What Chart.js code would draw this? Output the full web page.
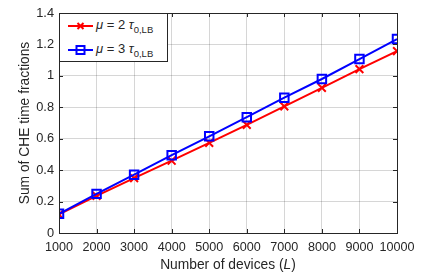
<!DOCTYPE html>
<html>
<head>
<meta charset="utf-8">
<script src="https://cdn.jsdelivr.net/npm/chart.js@4.4.0/dist/chart.umd.min.js"></script>
<style>
  html, body { margin: 0; padding: 0; background: #fff; }
  #wrap { position: relative; width: 436px; height: 273px; }
  #legendBox {
    position: absolute; left: 59px; top: 13px; width: 109px; height: 49px;
    box-sizing: border-box; border: 1px solid #262626; background: #fff;
    font-family: "Liberation Sans", Arial, sans-serif; font-size: 13px; color: #262626;
  }
  .legendItem { position: absolute; left: 8px; height: 14px; display: flex; align-items: center; white-space: nowrap; }
  .legendItem svg { margin-right: 3px; }
  .legendItem sub { font-size: 9.5px; vertical-align: -4px; }
  #xTitle {
    position: absolute; left: 59px; width: 338px; top: 257px; text-align: center;
    font-family: "Liberation Sans", Arial, sans-serif; font-size: 13.8px; line-height: 16px; color: #262626;
  }
</style>
</head>
<body>
<div id="wrap">
  <canvas id="cheChart" width="436" height="273"></canvas>
  <div id="legendBox"></div>
  <div id="xTitle">Number of devices (<i>L</i>)</div>
</div>
<script>
const deviceCounts = [1000, 2000, 3000, 4000, 5000, 6000, 7000, 8000, 9000, 10000];
const muValues = [2, 3];
const sumMu2 = [0.118, 0.236, 0.349, 0.46, 0.574, 0.688, 0.806, 0.924, 1.043, 1.157];
const sumMu3 = [0.122, 0.249, 0.371, 0.495, 0.615, 0.737, 0.861, 0.980, 1.107, 1.234];
const xTicks = [1000, 2000, 3000, 4000, 5000, 6000, 7000, 8000, 9000, 10000];
const yTicks = [0, 0.2, 0.4, 0.6, 0.8, 1, 1.2, 1.4];

const axisColor = '#262626';
const fontFamily = '"Liberation Sans", Arial, sans-serif';

// MATLAB style box with inward ticks on all sides
const boxTicks = {
  id: 'boxTicks',
  afterDraw(chart) {
    const ctx = chart.ctx;
    const a = chart.chartArea;
    const xs = chart.scales.x;
    const ys = chart.scales.y;
    const len = 4;
    ctx.save();
    ctx.strokeStyle = axisColor;
    ctx.lineWidth = 1;
    ctx.beginPath();
    xTicks.forEach(v => {
      const px = Math.round(xs.getPixelForValue(v)) + 0.5;
      ctx.moveTo(px, a.bottom); ctx.lineTo(px, a.bottom - len);
      ctx.moveTo(px, a.top); ctx.lineTo(px, a.top + len);
    });
    yTicks.forEach(v => {
      const py = Math.round(ys.getPixelForValue(v)) + 0.5;
      ctx.moveTo(a.left, py); ctx.lineTo(a.left + len, py);
      ctx.moveTo(a.right, py); ctx.lineTo(a.right - len, py);
    });
    ctx.stroke();
    ctx.strokeRect(Math.round(a.left) + 0.5, Math.round(a.top) + 0.5,
      Math.round(a.right - a.left), Math.round(a.bottom - a.top));
    ctx.restore();
  }
};

const seriesColors = ['#ff0000', '#0000ff'];
const seriesStyles = ['crossRot', 'rect'];

const chart = new Chart(document.getElementById('cheChart').getContext('2d'), {
  type: 'line',
  data: {
    labels: deviceCounts,
    datasets: [
      {
        label: 'mu = 2',
        data: deviceCounts.map((x, i) => ({ x: x, y: sumMu2[i] })),
        borderColor: seriesColors[0],
        backgroundColor: seriesColors[0],
        borderWidth: 2,
        pointStyle: seriesStyles[0],
        pointRadius: 5.5,
        pointBorderWidth: 2,
        pointBackgroundColor: 'transparent',
        tension: 0,
        order: 1
      },
      {
        label: 'mu = 3',
        data: deviceCounts.map((x, i) => ({ x: x, y: sumMu3[i] })),
        borderColor: seriesColors[1],
        backgroundColor: seriesColors[1],
        borderWidth: 2,
        pointStyle: seriesStyles[1],
        pointRadius: 6,
        pointBorderWidth: 2,
        pointBackgroundColor: 'transparent',
        tension: 0,
        order: 0
      }
    ]
  },
  options: {
    responsive: false,
    animation: false,
    layout: { padding: { left: 0, right: 39, top: 13, bottom: 0 } },
    plugins: { legend: { display: false }, tooltip: { enabled: false } },
    scales: {
      x: {
        type: 'linear',
        min: 1000,
        max: 10000,
        afterBuildTicks: s => { s.ticks = xTicks.map(v => ({ value: v })); },
        afterFit: s => { s.height = 40; },
        ticks: {
          color: axisColor,
          padding: 7,
          maxRotation: 0,
          autoSkip: false,
          font: { family: fontFamily, size: 12.6 },
          callback: v => String(v)
        },
        grid: { color: 'rgba(0,0,0,0.16)', drawTicks: false },
        border: { display: false },
        title: { display: false }
      },
      y: {
        min: 0,
        max: 1.4,
        afterBuildTicks: s => { s.ticks = yTicks.map(v => ({ value: v })); },
        afterFit: s => { s.width = 59; },
        ticks: {
          color: axisColor,
          padding: 5,
          autoSkip: false,
          font: { family: fontFamily, size: 12.8 },
          callback: v => String(Math.round(v * 10) / 10)
        },
        grid: { color: 'rgba(0,0,0,0.16)', drawTicks: false },
        border: { display: false },
        title: {
          display: true,
          text: 'Sum of CHE time fractions',
          color: axisColor,
          font: { family: fontFamily, size: 13.8 },
          padding: { top: 17, bottom: 0 }
        }
      }
    }
  },
  plugins: [boxTicks]
});

// grid lines dotted
chart.options.scales.x.grid.borderDash = [1, 2];
chart.options.scales.y.grid.borderDash = [1, 2];
chart.update();

// legend with mu and tau subscript, drawn as html text
function markerSvg(color, style) {
  let mark = '';
  if (style === 'rect') {
    mark = `<rect x="8.5" y="1" width="8" height="8" fill="none" stroke="${color}" stroke-width="2"/>`;
  } else {
    mark = `<path d="M9.5 2 L15.5 8 M15.5 2 L9.5 8" stroke="${color}" stroke-width="2"/>`;
  }
  return `<svg width="25" height="10"><line x1="0" y1="5" x2="25" y2="5" stroke="${color}" stroke-width="2"/>${mark}</svg>`;
}

const legendBox = document.getElementById('legendBox');
muValues.forEach((mu, i) => {
  const item = document.createElement('div');
  item.className = 'legendItem';
  item.style.top = (i === 0 ? 5 : 29) + 'px';
  item.innerHTML = markerSvg(seriesColors[i], seriesStyles[i]) +
    `<span><i>μ</i> = ${mu} <i>τ</i><sub>0,LB</sub></span>`;
  legendBox.appendChild(item);
});
</script>
</body>
</html>
